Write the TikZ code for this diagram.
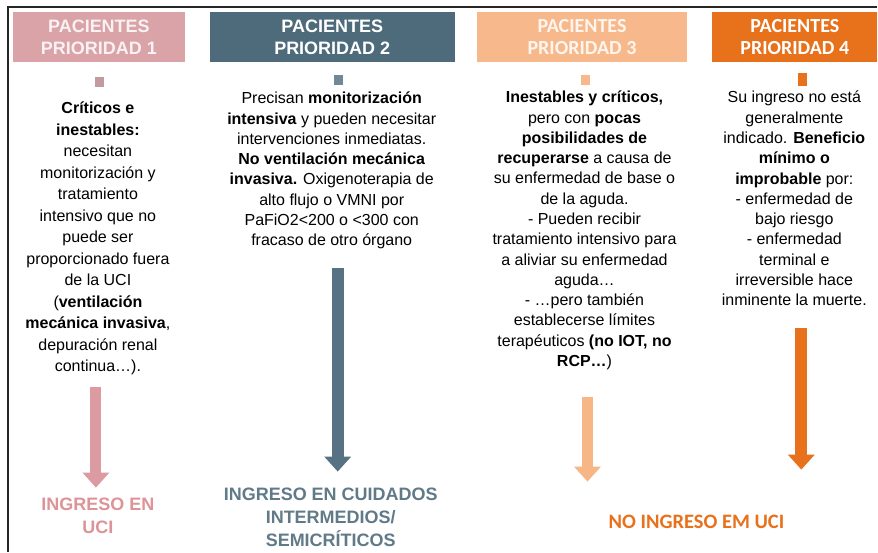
\documentclass[tikz,border=0pt]{standalone}
\usepackage{fontspec}
\setmainfont{Liberation Sans}
\newfontfamily\carlito{Carlito}
\usepackage{xcolor}
\usetikzlibrary{arrows.meta, positioning}

\definecolor{rosa}{HTML}{D9A3A8}
\definecolor{pizarra}{HTML}{4E6B7B}
\definecolor{salmon}{HTML}{F7B98C}
\definecolor{naranja}{HTML}{E8711C}

\begin{document}
\begin{tikzpicture}[x=1pt, y=-1pt,
  cabecera/.style={inner sep=0, align=center, minimum height=50pt, text=white,
    font=\bfseries\fontsize{18}{22}\selectfont},
  marca/.style={inner sep=0, minimum width=9pt, minimum height=10pt},
  texto/.style={inner sep=0, align=center, anchor=north, font=\fontsize{16}{20.3}\selectfont},
  resultado/.style={inner sep=0, align=center, font=\bfseries\fontsize{18}{23}\selectfont},
  flecha/.style={line width=12pt, -{Triangle[width=26pt, length=15pt]}}]

% Fondo y marco
\fill[white] (0,0) rectangle (878,552);
\draw[line width=1.5pt, black!85] (8,552) -- (8,7) -- (878,7);

% Cabeceras de prioridad
\node[cabecera, fill=rosa, text=white!85!rosa, minimum width=172pt] (c1) at (99,37) {PACIENTES\\PRIORIDAD 1};
\node[cabecera, fill=pizarra, minimum width=245pt] (c2) at (332.5,37) {PACIENTES\\PRIORIDAD 2};
\node[cabecera, fill=salmon, text=white!85!salmon, minimum width=211pt,
  font=\carlito\bfseries\fontsize{20}{22}\selectfont] (c3) at (582.5,37) {PACIENTES\\PRIORIDAD 3};
\node[cabecera, fill=naranja, minimum width=165pt,
  font=\carlito\bfseries\fontsize{20}{22}\selectfont] (c4) at (795.5,37) {PACIENTES\\PRIORIDAD 4};

% Marcas pequeñas
\node[marca, fill=rosa!75!gray] (m1) at (100,82) {};
\node[marca, fill=pizarra!80!white] (m2) at (339,80) {};
\node[marca, fill=salmon] (m3) at (586,80) {};
\node[marca, fill=naranja, minimum height=13pt] (m4) at (803,80) {};

% Textos de cada columna
\node[texto, font=\fontsize{16}{21.5}\selectfont] (t1) at (98,102) {\textbf{Críticos e}\\\textbf{inestables:}\\necesitan\\monitorización y\\tratamiento\\intensivo que no\\puede ser\\proporcionado fuera\\de la UCI\\(\textbf{ventilación}\\\textbf{mecánica invasiva},\\depuración renal\\continua…).};
\node[texto] (t2) at (332,92) {Precisan \textbf{monitorización}\\\textbf{intensiva} y pueden necesitar\\intervenciones inmediatas.\\\textbf{No ventilación mecánica}\\\textbf{invasiva.} Oxigenoterapia de\\alto flujo o VMNI por\\PaFiO2<200 o <300 con\\fracaso de otro órgano};
\node[texto] (t3) at (585,91) {\textbf{Inestables y críticos,}\\pero con \textbf{pocas}\\\textbf{posibilidades de}\\\textbf{recuperarse} a causa de\\su enfermedad de base o\\de la aguda.\\- Pueden recibir\\tratamiento intensivo para\\a aliviar su enfermedad\\aguda…\\- …pero también\\establecerse límites\\terapéuticos \textbf{(no IOT, no}\\\textbf{RCP…})};
\node[texto] (t4) at (795,91) {Su ingreso no está\\generalmente\\indicado. \textbf{Beneficio}\\\textbf{mínimo o}\\\textbf{improbable} por:\\- enfermedad de\\bajo riesgo\\- enfermedad\\terminal e\\irreversible hace\\inminente la muerte.};

% Destinos
\node[resultado, text=rosa!90!red] (r1) at (98,516) {INGRESO EN\\UCI};
\node[resultado, text=pizarra!90!white] (r2) at (331,518) {INGRESO EN CUIDADOS\\INTERMEDIOS/\\SEMICRÍTICOS};
\node[resultado, text=naranja, font=\carlito\bfseries\fontsize{20.5}{23}\selectfont] (r3) at (697,522) {NO INGRESO EM UCI};

% Flechas
\coordinate (f1a) at (96,387);  \coordinate (f1b) at (96,488);
\coordinate (f2a) at (338,268); \coordinate (f2b) at (338,472);
\coordinate (f3a) at (588,397); \coordinate (f3b) at (588,482);
\coordinate (f4a) at (802,328); \coordinate (f4b) at (802,470);
\draw[flecha, rosa!95!red, line width=11pt] (f1a) -- (f1b);
\draw[flecha, pizarra!95!white] (f2a) -- (f2b);
\draw[flecha, salmon!95!orange] (f3a) -- (f3b);
\draw[flecha, naranja] (f4a) -- (f4b);

\end{tikzpicture}
\end{document}
